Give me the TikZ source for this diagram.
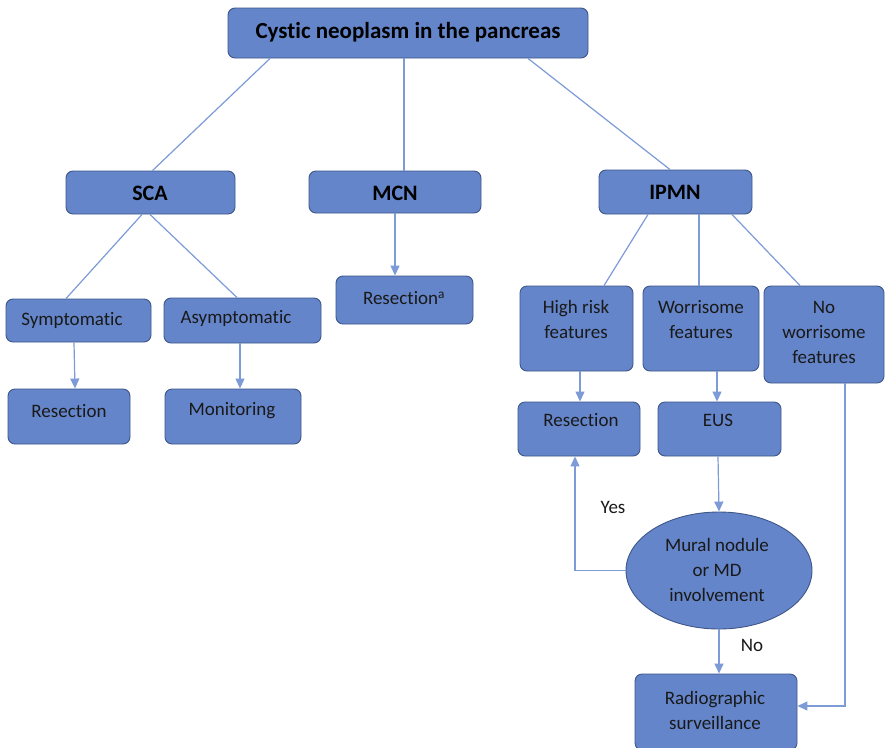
\documentclass[tikz,border=0pt]{standalone}
\usepackage{fontspec}
\setmainfont{Carlito}[Ligatures=NoCommon]
\usetikzlibrary{shapes.geometric,arrows.meta}
\definecolor{boxfill}{RGB}{100,133,201}
\definecolor{boxdraw}{RGB}{62,86,136}
\definecolor{lnk}{RGB}{125,155,215}
\tikzset{
  box/.style={draw=boxdraw, fill=boxfill, rounded corners=7pt, line width=0.9pt, inner sep=0pt},
  txt/.style={inner sep=0pt, align=center, font=\fontsize{19}{25}\selectfont, text=black!90},
  big/.style={inner sep=0pt, align=center, font=\fontsize{22}{26}\selectfont\bfseries, text=black},
  conn/.style={draw=lnk, line width=1.2pt},
  arr/.style={conn, -{Triangle[length=10pt,width=9pt]}}
}
\begin{document}
\begin{tikzpicture}[x=1pt,y=-1pt]
\clip (0,0) rectangle (885,747);
\fill[white] (0,0) rectangle (885,747);
% boxes
\node[box, minimum width=360pt, minimum height=50pt] (top) at (408,33) {};
\node[box, minimum width=169pt, minimum height=43pt] (sca) at (150.5,192.5) {};
\node[box, minimum width=172pt, minimum height=42pt] (mcn) at (395,192) {};
\node[box, minimum width=153pt, minimum height=44pt] (ipmn) at (675.5,192) {};
\node[box, minimum width=145pt, minimum height=43pt] (sym) at (78.5,320.5) {};
\node[box, minimum width=157pt, minimum height=45pt] (asym) at (242.5,320.5) {};
\node[box, minimum width=122pt, minimum height=55pt] (res1) at (69,416.5) {};
\node[box, minimum width=136pt, minimum height=55pt] (mon) at (233,416.5) {};
\node[box, minimum width=137pt, minimum height=48pt] (resa) at (404.5,300) {};
\node[box, minimum width=113pt, minimum height=85pt] (hr) at (576.5,328.5) {};
\node[box, minimum width=116pt, minimum height=85pt] (wf) at (701,328.5) {};
\node[box, minimum width=120pt, minimum height=97pt] (nwf) at (824,334.5) {};
\node[box, minimum width=122pt, minimum height=54pt] (res2) at (579,429) {};
\node[box, minimum width=123pt, minimum height=54pt] (eus) at (719.5,429) {};
\node[draw=boxdraw, fill=boxfill, line width=0.9pt, ellipse, inner sep=0pt, minimum width=186pt, minimum height=117pt] (ell) at (719,570.5) {};
\node[box, minimum width=162pt, minimum height=76pt] (rad) at (716,712) {};
% texts
\node[big, font=\fontsize{23}{26}\selectfont\bfseries] (topt) at (408,32) {Cystic neoplasm in the pancreas};
\node[big] (scat) at (150,193) {SCA};
\node[big] (mcnt) at (395,193) {MCN};
\node[big] (ipmnt) at (675,192) {IPMN};
\node[txt] (symt) at (72,320) {Symptomatic};
\node[txt] (asymt) at (236,318) {Asymptomatic};
\node[txt] (res1t) at (69,411) {Resection};
\node[txt] (mont) at (232,411) {Monitoring};
\node[txt] (resat) at (404,298) {Resection\textsuperscript{a}};
\node[txt] (hrt) at (576,319.5) {High risk\\features};
\node[txt] (wft) at (701,319.5) {Worrisome\\features};
\node[txt] (nwft) at (824,332) {No\\worrisome\\features};
\node[txt] (res2t) at (581,420) {Resection};
\node[txt] (eust) at (718,420) {EUS};
\node[txt] (ellt) at (717,570) {Mural nodule\\or MD\\involvement};
\node[txt] (radt) at (715,710.5) {Radiographic\\surveillance};
\node[txt] (yes) at (613,507) {Yes};
\node[txt] (no) at (752,645) {No};
% connectors
\draw[conn] ([xshift=-138pt]top.south) -- ([xshift=2pt]sca.north);
\draw[conn] ([xshift=-4pt]top.south) -- ([xshift=9pt]mcn.north);
\draw[conn] ([xshift=120pt]top.south) -- ([xshift=-5.5pt]ipmn.north);
\draw[conn] ([xshift=-8.5pt]sca.south) -- ([xshift=-12.5pt]sym.north);
\draw[conn] ([xshift=-0.5pt]sca.south) -- ([xshift=-5.5pt]asym.north);
\draw[arr] ([xshift=-4.5pt]sym.south) -- ([xshift=6pt]res1.north);
\draw[arr] ([xshift=-2.5pt]asym.south) -- ([xshift=7pt]mon.north);
\draw[arr] (mcn.south) -- ([xshift=-9.5pt]resa.north);
\draw[conn] ([xshift=-27.5pt]ipmn.south) -- ([xshift=27.5pt]hr.north);
\draw[conn] ([xshift=23.5pt]ipmn.south) -- ([xshift=-2pt]wf.north);
\draw[conn] ([xshift=56.5pt]ipmn.south) -- ([xshift=-24pt]nwf.north);
\draw[arr] ([xshift=3.5pt]hr.south) -- ([xshift=1pt]res2.north);
\draw[arr] ([xshift=16pt]wf.south) -- ([xshift=-2.5pt]eus.north);
\draw[arr] ([xshift=-1.5pt]eus.south) -- (ell.north);
\draw[arr] (ell.west) -| ([xshift=-4pt]res2.south);
\draw[arr] (ell.south) -- ([xshift=3pt]rad.north);
\draw[arr] ([xshift=21pt]nwf.south) |- ([yshift=6pt]rad.east);
\end{tikzpicture}
\end{document}
